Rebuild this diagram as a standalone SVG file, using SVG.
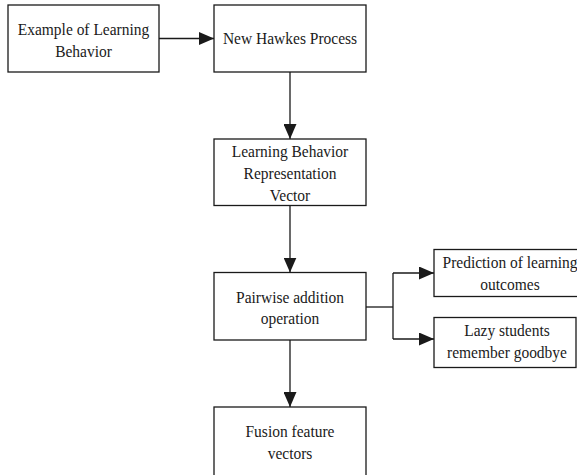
<svg xmlns="http://www.w3.org/2000/svg" width="577" height="475" viewBox="0 0 577 475">
<style>
.box{fill:#fff;stroke:#1a1a1a;stroke-width:1.3}
.lbl{font-family:"Liberation Serif","Times New Roman",serif;font-size:17.5px;fill:#1a1a1a;text-anchor:middle}
.con{fill:none;stroke:#1a1a1a;stroke-width:1.3}
</style>
<defs>
<marker id="ah" markerWidth="15" markerHeight="13" refX="15" refY="6.5" orient="auto" markerUnits="userSpaceOnUse">
<path d="M0,0 L15,6.5 L0,13 Z" fill="#1a1a1a"/>
</marker>
</defs>
<g id="connectors">
<line class="con" x1="159" y1="38.5" x2="214" y2="38.5" marker-end="url(#ah)"/>
<line class="con" x1="290" y1="72" x2="290" y2="139" marker-end="url(#ah)"/>
<line class="con" x1="290" y1="205.5" x2="290" y2="272.5" marker-end="url(#ah)"/>
<line class="con" x1="290" y1="340" x2="290" y2="407" marker-end="url(#ah)"/>
<polyline class="con" points="366,307 393,307"/>
<polyline class="con" points="393,273 393,339"/>
<line class="con" x1="393" y1="273" x2="434" y2="273" marker-end="url(#ah)"/>
<line class="con" x1="393" y1="339" x2="434" y2="339" marker-end="url(#ah)"/>
</g>
<g id="n1">
<rect class="box" x="8" y="5" width="151" height="67"/>
<g transform="translate(83.5,0) scale(0.885,1)">
<text class="lbl" x="0" y="35">Example of Learning</text>
<text class="lbl" x="0" y="57">Behavior</text>
</g>
</g>
<g id="n2">
<rect class="box" x="214" y="5" width="152" height="67"/>
<g transform="translate(290,0) scale(0.885,1)">
<text class="lbl" x="0" y="44.5">New Hawkes Process</text>
</g>
</g>
<g id="n3">
<rect class="box" x="214" y="139" width="152" height="66.5"/>
<g transform="translate(290,0) scale(0.885,1)">
<text class="lbl" x="0" y="157">Learning Behavior</text>
<text class="lbl" x="0" y="179.5">Representation</text>
<text class="lbl" x="0" y="201.5">Vector</text>
</g>
</g>
<g id="n4">
<rect class="box" x="214" y="272.5" width="152" height="67.5"/>
<g transform="translate(290,0) scale(0.885,1)">
<text class="lbl" x="0" y="303">Pairwise addition</text>
<text class="lbl" x="0" y="324.5">operation</text>
</g>
</g>
<g id="n5">
<rect class="box" x="434" y="249.5" width="150" height="47"/>
<g transform="translate(510,0) scale(0.885,1)">
<text class="lbl" x="0" y="268.5">Prediction of learning</text>
<text class="lbl" x="0" y="290.5">outcomes</text>
</g>
</g>
<g id="n6">
<rect class="box" x="434" y="317.5" width="142" height="50"/>
<g transform="translate(507,0) scale(0.885,1)">
<text class="lbl" x="0" y="336">Lazy students</text>
<text class="lbl" x="0" y="358.5">remember goodbye</text>
</g>
</g>
<g id="n7">
<rect class="box" x="214" y="407" width="152" height="70"/>
<g transform="translate(290,0) scale(0.885,1)">
<text class="lbl" x="0" y="437">Fusion feature</text>
<text class="lbl" x="0" y="459">vectors</text>
</g>
</g>
</svg>
